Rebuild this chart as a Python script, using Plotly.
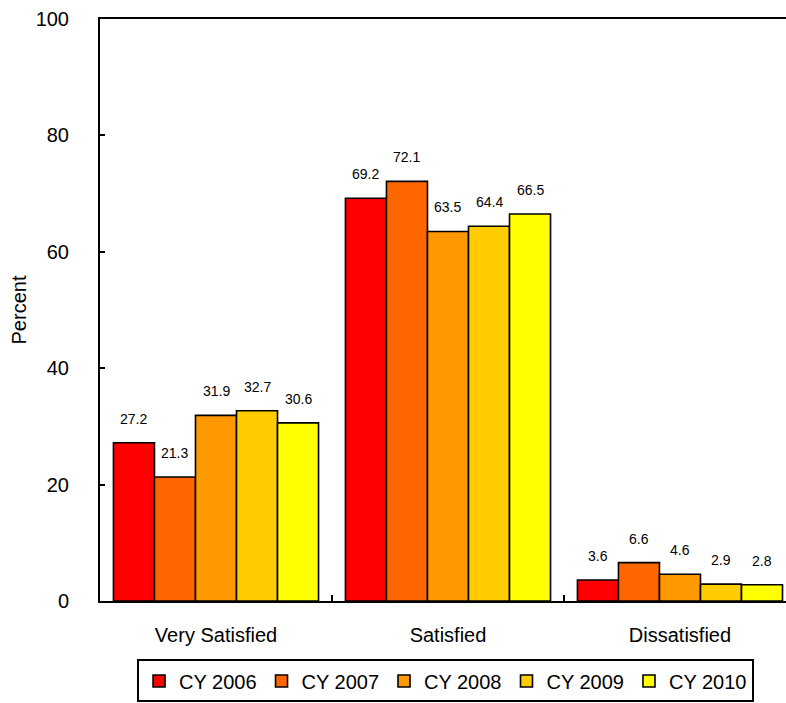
import plotly.graph_objects as go

categories = ["Very Satisfied", "Satisfied", "Dissatisfied"]
series_names = ["CY 2006", "CY 2007", "CY 2008", "CY 2009", "CY 2010"]
cy2006 = [27.2, 69.2, 3.6]
cy2007 = [21.3, 72.1, 6.6]
cy2008 = [31.9, 63.5, 4.6]
cy2009 = [32.7, 64.4, 2.9]
cy2010 = [30.6, 66.5, 2.8]
series_values = [cy2006, cy2007, cy2008, cy2009, cy2010]
y_ticks = [0, 20, 40, 60, 80, 100]

colors = ["#FF0000", "#FF6600", "#FF9900", "#FFCC00", "#FFFF00"]
FONT = "Liberation Sans, Arial, sans-serif"
bargap = 0.116
n = len(series_names)
w = (1 - bargap) / n

fig = go.Figure()
for name, vals, col in zip(series_names, series_values, colors):
    fig.add_trace(go.Bar(
        x=categories, y=vals, name=name,
        marker=dict(color=col, line=dict(color="black", width=1.6)),
    ))

annotations = []
for j, vals in enumerate(series_values):
    for i, v in enumerate(vals):
        annotations.append(dict(
            x=i + (j - (n - 1) / 2) * w, y=v, xref="x", yref="y",
            text=f"{v:.1f}", showarrow=False, yanchor="middle", yshift=24,
            font=dict(family=FONT, size=14, color="black"),
        ))

fig.update_layout(
    width=786, height=703,
    margin=dict(l=100, r=0, t=19, b=102),
    paper_bgcolor="white", plot_bgcolor="white",
    barmode="group", bargap=bargap, bargroupgap=0,
    font=dict(family=FONT, color="black"),
    annotations=annotations,
    showlegend=True,
    legend=dict(
        orientation="h", x=0.054, xanchor="left", y=-0.1005, yanchor="top",
        bordercolor="black", borderwidth=2, bgcolor="white",
        font=dict(family=FONT, size=20, color="black"),
        itemwidth=30, traceorder="normal",
    ),
)
fig.update_xaxes(
    type="category", range=[-0.5, 2.457],
    showline=True, linecolor="black", linewidth=2, mirror=True,
    ticks="inside", tickson="boundaries", ticklen=6, tickwidth=2, tickcolor="black",
    showgrid=False, tickfont=dict(family=FONT, size=20, color="black"),
    ticklabelstandoff=15,
)
fig.update_yaxes(
    range=[0, 100], tickvals=y_ticks,
    showline=True, linecolor="black", linewidth=2,
    ticks="inside", ticklen=5, tickwidth=2, tickcolor="black",
    showgrid=False, zeroline=False,
    tickfont=dict(family=FONT, size=20, color="black"),
    ticklabelposition="outside", ticklabelstandoff=25,
    title=dict(text="Percent", font=dict(family=FONT, size=20, color="black"), standoff=4),
)

fig.write_html(
    "out.html",
    config={"displayModeBar": False},
    post_script="document.body.style.margin='0';document.documentElement.style.overflow='hidden';document.body.style.overflow='hidden';",
)
